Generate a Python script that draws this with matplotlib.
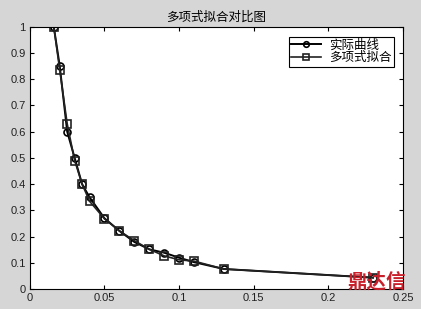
import matplotlib
matplotlib.use('Agg')
import matplotlib.pyplot as plt

plt.rcParams['font.family'] = ['Liberation Sans', 'Noto Sans CJK SC', 'DejaVu Sans']

# data
x_vals = [0.016, 0.02, 0.025, 0.03, 0.035, 0.04, 0.05, 0.06, 0.07, 0.08,
          0.09, 0.1, 0.11, 0.13, 0.23]
y_actual = [1.0, 0.85, 0.60, 0.50, 0.40, 0.35, 0.27, 0.222, 0.18, 0.152,
            0.139, 0.12, 0.103, 0.077, 0.044]
y_fit = [1.0, 0.835, 0.63, 0.49, 0.40, 0.335, 0.268, 0.222, 0.185, 0.152,
         0.127, 0.112, 0.107, 0.077, 0.044]
x_ticks = [0, 0.05, 0.1, 0.15, 0.2, 0.25]
x_labels = ['0', '0.05', '0.1', '0.15', '0.2', '0.25']
y_ticks = [0, 0.1, 0.2, 0.3, 0.4, 0.5, 0.6, 0.7, 0.8, 0.9, 1]
y_labels = ['0', '0.1', '0.2', '0.3', '0.4', '0.5', '0.6', '0.7', '0.8', '0.9', '1']
labels = ['实际曲线', '多项式拟合']

fig = plt.figure(figsize=(4.21, 3.09), dpi=100, facecolor='#d6d6d6')
ax = fig.add_axes([0.071, 0.064, 0.886, 0.85])

ax.plot(x_vals, y_actual, '-o', color='black', lw=1.4, ms=5, mfc='none',
        mew=1.2, label=labels[0])
ax.plot(x_vals, y_fit, '-s', color='#222222', lw=1.2, ms=6, mfc='none',
        mew=1.2, label=labels[1])

ax.set_xlim(0, 0.25)
ax.set_ylim(0, 1)
ax.set_xticks(x_ticks)
ax.set_xticklabels(x_labels)
ax.set_yticks(y_ticks)
ax.set_yticklabels(y_labels)
ax.tick_params(direction='in', top=True, right=True, labelsize=8, length=3,
               pad=3, labelcolor='#222222')
for s in ax.spines.values():
    s.set_linewidth(0.8)

ax.set_title('多项式拟合对比图', fontsize=9, pad=4)

leg = ax.legend(loc='upper right', fontsize=9, fancybox=False, framealpha=1,
                edgecolor='black', borderpad=0.2, labelspacing=0.05,
                handlelength=2.4, handletextpad=0.6, markerscale=0.8,
                bbox_to_anchor=(0.992, 0.985))
leg.get_frame().set_linewidth(0.8)

# watermark
fig.text(0.895, 0.087, '鼎达信', color='#c8202a', fontsize=14,
         fontweight='bold', ha='center', va='center')

fig.savefig('out.png', dpi=100, facecolor=fig.get_facecolor())
